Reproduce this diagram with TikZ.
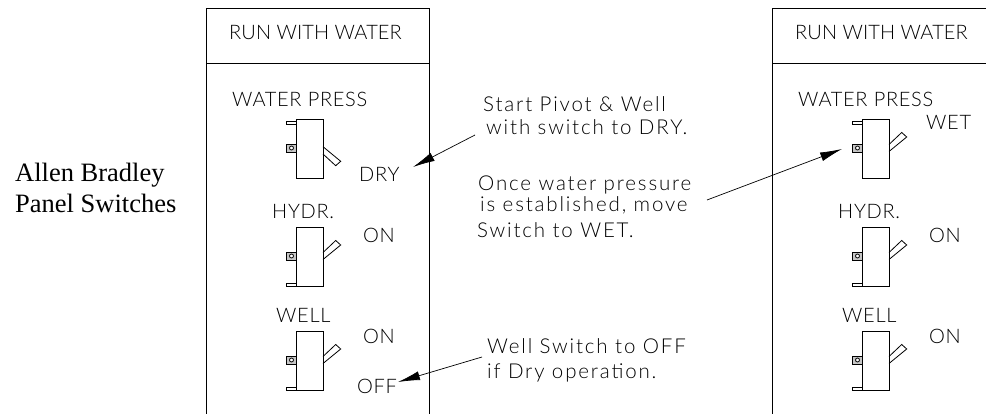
\documentclass[tikz,border=0pt]{standalone}
\usepackage{fontspec}
\setmainfont{Liberation Serif}
\newfontfamily\cadfont[UprightFont=* Light]{Lato}
\usetikzlibrary{arrows.meta}

\newcommand{\switchcase}{%
  \draw[panelline] (0,0) rectangle (27,59);
  \draw[panelline, fill=gray!45] (-10,25) rectangle (0,33);
  \draw[panelline, fill=white] (-4.5,29) circle (2);
}

\tikzset{
  panelline/.style={draw=black, line width=0.8pt},
  headtext/.style={anchor=base west, inner sep=0pt, font=\cadfont\addfontfeature{LetterSpace=0.5}\fontsize{20}{22}\selectfont},
  captext/.style={anchor=base west, inner sep=0pt, font=\cadfont\addfontfeature{LetterSpace=3.5}\fontsize{20}{22}\selectfont},
  notetext/.style={anchor=base west, inner sep=0pt, font=\cadfont\addfontfeature{LetterSpace=9}\fontsize{20.5}{22}\selectfont},
  titletext/.style={anchor=base west, inner sep=0pt, font=\fontsize{26.5}{30}\selectfont},
  pointer/.style={line width=0.7pt, -{Latex[length=22pt,width=9pt]}},
  dryswitch/.pic={
    \switchcase
    \draw[panelline] (-10,2) rectangle (0,5);
    \draw[panelline] (27,27.7) -- (44.7,42.3) -- (39.7,46.7) -- (27,35);
  },
  wetswitch/.pic={
    \switchcase
    \draw[panelline] (-10,2) rectangle (0,5);
    \draw[panelline] (27,25.5) -- (39.7,13.5) -- (44.7,18) -- (27,32.5);
  },
  onswitch/.pic={
    \switchcase
    \draw[panelline] (-10,56) rectangle (0,59);
    \draw[panelline] (27,25.5) -- (39.7,13.5) -- (44.7,18) -- (27,32.5);
  }
}

\begin{document}
\begin{tikzpicture}[x=1pt, y=-1pt]
  \useasboundingbox (0,0) rectangle (986,414);

  % side title
  \node[titletext] (titletop) at (15,182) {Allen Bradley};
  \node[titletext] (titlebottom) at (15,213) {Panel Switches};

  % left panel
  \draw[panelline] (206,414) -- (206,8) -- (429,8) -- (429,414);
  \draw[panelline] (206,63) -- (429,63);
  \node[headtext] (runleft) at (229,40) {RUN WITH WATER};
  \node[captext] (pressleft) at (232,107) {WATER PRESS};
  \node[captext] (dry) at (359,182) {DRY};
  \node[captext] (hydrleft) at (272,219) {HYDR.};
  \node[captext] (onhydrleft) at (363,243) {ON};
  \node[captext] (wellleft) at (276,323) {WELL};
  \node[captext] (onwellleft) at (363,344) {ON};
  \node[captext] (off) at (357,393) {OFF};
  \pic at (296,119) {dryswitch};
  \pic at (296,227) {onswitch};
  \pic at (296,331) {onswitch};

  % right panel
  \draw[panelline] (772,414) -- (772,8) -- (986,8);
  \draw[panelline] (772,63) -- (986,63);
  \node[headtext] (runright) at (795,40) {RUN WITH WATER};
  \node[captext] (pressright) at (798,107) {WATER PRESS};
  \node[captext] (wet) at (926,130) {WET};
  \node[captext] (hydrright) at (838,219) {HYDR.};
  \node[captext] (onhydrright) at (929,243) {ON};
  \node[captext] (wellright) at (842,323) {WELL};
  \node[captext] (onwellright) at (929,344) {ON};
  \pic at (862,119) {wetswitch};
  \pic at (862,227) {onswitch};
  \pic at (862,331) {onswitch};

  % notes
  \node[notetext] (startnote) at (483,112) {Start Pivot \& Well};
  \node[notetext] (withnote) at (486,135) {with switch to DRY.};
  \node[notetext] (oncenote) at (478,191) {Once water pressure};
  \node[notetext] (isnote) at (480,212) {is established, move};
  \node[notetext] (switchnote) at (477,238) {Switch to WET.};
  \node[notetext] (wellnote) at (487,353) {Well Switch to OFF};
  \node[notetext] (ifnote) at (487,378) {if Dry operation.};

  % arrows
  \coordinate (drytail) at (475,135);
  \coordinate (drytip) at (413,167);
  \coordinate (wettail) at (707,200);
  \coordinate (wettip) at (842,149);
  \coordinate (offtail) at (482,357);
  \coordinate (offtip) at (398,382);
  \draw[pointer] (drytail) -- (drytip);
  \draw[pointer] (wettail) -- (wettip);
  \draw[pointer] (offtail) -- (offtip);
\end{tikzpicture}
\end{document}
